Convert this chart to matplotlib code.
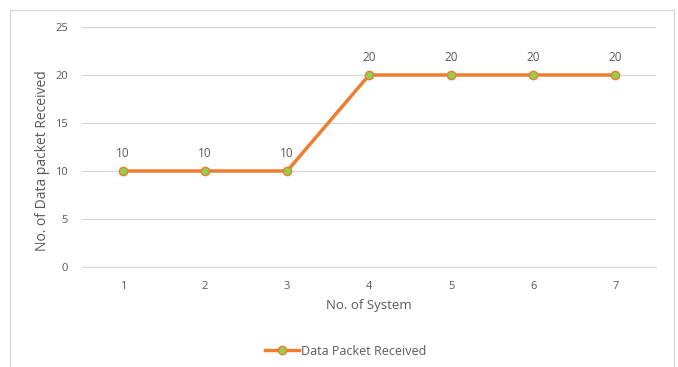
import matplotlib.pyplot as plt
from matplotlib.patches import Rectangle

systems = [1, 2, 3, 4, 5, 6, 7]
packets = [10, 10, 10, 20, 20, 20, 20]
y_ticks = [0, 5, 10, 15, 20, 25]

text_color = '#595959'
grid_color = '#d9d9d9'
line_color = '#ed7d31'
marker_color = '#92d050'

plt.rcParams['font.family'] = ['Open Sans', 'DejaVu Sans']

fig = plt.figure(figsize=(6.78, 3.67), dpi=100)
ax = fig.add_axes([0.121, 0.2725, 0.847, 0.654])

# light frame around the chart area
fig.patches.append(Rectangle((10 / 678, -0.05), 664 / 678, 1.05 - 10 / 367,
                             transform=fig.transFigure, fill=False,
                             edgecolor='#d9d9d9', linewidth=1))

ax.plot(systems, packets, color=line_color, linewidth=2.5, marker='o',
        markersize=6, markerfacecolor=marker_color, markeredgecolor=line_color,
        markeredgewidth=1, label='Data Packet Received', zorder=3)

for x, y in zip(systems, packets):
    ax.annotate(str(y), (x, y), xytext=(0, 8), textcoords='offset points',
                ha='center', va='bottom', fontsize=8.5, color=text_color)

ax.set_xlim(0.5, 7.5)
ax.set_ylim(0, 25)
ax.set_xticks(systems)
ax.set_yticks(y_ticks)
ax.grid(True, axis='y', color=grid_color, linewidth=1)
ax.set_axisbelow(True)
for side in ['top', 'right', 'left']:
    ax.spines[side].set_visible(False)
ax.spines['bottom'].set_color(grid_color)
ax.tick_params(length=0, labelsize=8, labelcolor=text_color, pad=10)
ax.tick_params(axis='x', pad=10)

ax.set_xlabel('No. of System', fontsize=9.5, color=text_color, labelpad=5)
ax.set_ylabel('No. of Data packet Received', fontsize=10, color=text_color)
ax.yaxis.set_label_coords(-0.055, 0.445)

fig.legend(loc='lower center', bbox_to_anchor=(0.51, -0.005), frameon=False,
           fontsize=9, labelcolor=text_color, handlelength=2.7,
           handletextpad=0.2)

fig.savefig('out.png', dpi=100)
